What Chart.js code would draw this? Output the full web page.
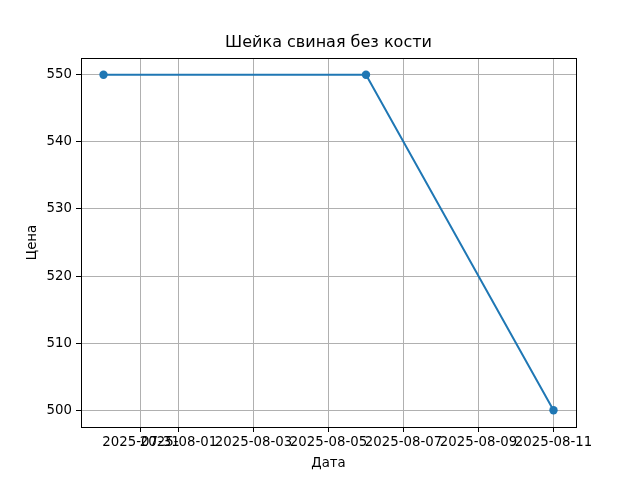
<!DOCTYPE html>
<html>
<head>
<meta charset="utf-8">
<script src="https://cdn.jsdelivr.net/npm/chart.js@4"></script>
<style>
html,body{margin:0;padding:0;background:#fff;}
#wrap{width:640px;height:480px;}
</style>
</head>
<body>
<div id="wrap"><canvas id="c" width="640" height="480"></canvas></div>
<script>
const dates = ['2025-07-30', '2025-08-06', '2025-08-11'];
const prices = [550, 550, 500];
const xTickLabels = ['2025-07-31','2025-08-01','2025-08-03','2025-08-05','2025-08-07','2025-08-09','2025-08-11'];
const yTicks = [500, 510, 520, 530, 540, 550];
const chartTitle = 'Шейка свиная без кости';
const xTitle = 'Дата';
const yTitle = 'Цена';

const DAY = 86400000;
const toDay = s => Date.UTC(+s.slice(0,4), +s.slice(5,7)-1, +s.slice(8,10)) / DAY;
const fromDay = d => new Date(Math.round(d) * DAY).toISOString().slice(0,10);

const xs = dates.map(toDay);
const pts = xs.map((x,i) => ({x: x, y: prices[i]}));
const xMinD = Math.min(...xs), xMaxD = Math.max(...xs);
const xm = (xMaxD - xMinD) * 0.05;
const yMinD = Math.min(...prices), yMaxD = Math.max(...prices);
const ym = (yMaxD - yMinD) * 0.05;
const xTickVals = xTickLabels.map(toDay);

const font = {family: 'DejaVu Sans', size: 13.3};

const frame = {
  id: 'frame',
  afterDatasetsDraw(chart) {
    const a = chart.chartArea, ctx = chart.ctx;
    ctx.save();
    ctx.strokeStyle = '#000';
    ctx.lineWidth = 1;
    ctx.strokeRect(Math.round(a.left)+0.5, Math.round(a.top)+0.5, Math.round(a.right-a.left), Math.round(a.bottom-a.top));
    ctx.restore();
  }
};

const axesTitle = {
  id: 'axesTitle',
  afterDraw(chart) {
    const a = chart.chartArea, ctx = chart.ctx;
    ctx.save();
    ctx.fillStyle = '#000';
    ctx.font = '16px "DejaVu Sans"';
    ctx.textAlign = 'center';
    ctx.textBaseline = 'middle';
    ctx.fillText(chartTitle, (a.left + a.right) / 2, 43);
    ctx.restore();
  }
};

new Chart(document.getElementById('c'), {
  type: 'line',
  data: {
    datasets: [{
      data: pts,
      borderColor: '#1f77b4',
      backgroundColor: '#1f77b4',
      borderWidth: 2,
      pointRadius: 4.2,
      pointHoverRadius: 4.2,
      pointBorderWidth: 0,
      tension: 0,
      fill: false,
      clip: false
    }]
  },
  options: {
    responsive: false,
    devicePixelRatio: 1,
    animation: false,
    events: [],
    layout: {padding: {left: 0, right: 64, top: 58, bottom: 0}},
    plugins: {
      legend: {display: false},
      tooltip: {enabled: false},
      title: {display: false}
    },
    scales: {
      x: {
        type: 'linear',
        min: xMinD - xm,
        max: xMaxD + xm,
        afterBuildTicks: s => { s.ticks = xTickVals.map(v => ({value: v})); },
        afterFit: s => { s.height = 53; },
        ticks: {
          autoSkip: false,
          maxRotation: 0,
          minRotation: 0,
          padding: 3,
          color: '#000',
          font: font,
          callback: v => fromDay(v)
        },
        grid: {color: '#b0b0b0', lineWidth: 1, tickColor: '#000', tickLength: 5, drawTicks: true},
        border: {display: true, color: '#000'},
        title: {display: true, text: xTitle, color: '#000', font: font, padding: {top: 0, bottom: 8}}
      },
      y: {
        type: 'linear',
        min: yMinD - ym,
        max: yMaxD + ym,
        afterBuildTicks: s => { s.ticks = yTicks.map(v => ({value: v})); },
        afterFit: s => { s.width = 81; },
        ticks: {
          padding: 4,
          color: '#000',
          font: font,
          callback: v => String(v)
        },
        grid: {color: '#b0b0b0', lineWidth: 1, tickColor: '#000', tickLength: 5, drawTicks: true},
        border: {display: true, color: '#000'},
        title: {display: true, text: yTitle, color: '#000', font: font, padding: {top: 25, bottom: 0}}
      }
    }
  },
  plugins: [frame, axesTitle]
});
</script>
</body>
</html>
